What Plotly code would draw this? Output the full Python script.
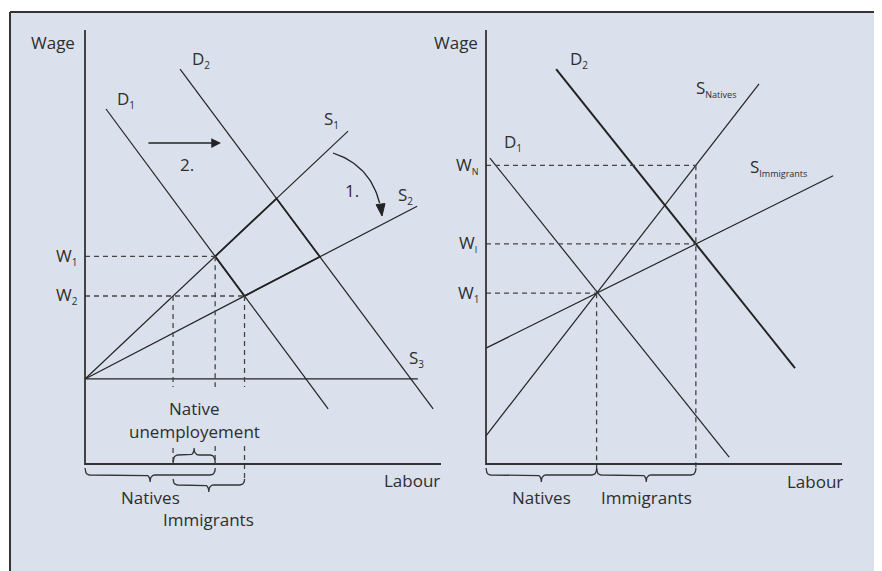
import numpy as np
import plotly.graph_objects as go

# ---------------- data (economic units: labour 0..100, wage 0..100) ----------------
axis_length = [100.0, 100.0]                 # labour axis, wage axis

# Left panel: supply curves share one starting wage
left_supply_start = [0.0, 19.6]
left_s1_end = [73.9, 76.7]
left_s2_end = [93.3, 59.4]
left_s3_end = [93.5, 19.6]
left_d1 = [[5.9, 81.8], [68.3, 12.7]]
left_d2 = [[26.7, 91.0], [97.8, 12.7]]

# Right panel
right_d1 = [[1.1, 70.5], [68.3, 1.6]]
right_d2 = [[19.7, 91.0], [86.8, 22.1]]
right_s_natives = [[0.0, 6.5], [76.7, 87.6]]
right_s_immigrants = [[0.0, 26.7], [97.5, 66.4]]

axis_titles = ["Wage", "Labour"]
left_wage_labels = ["W", "W"]
left_wage_subs = ["1", "2"]
right_wage_labels = ["W", "W", "W"]
right_wage_subs = ["N", "I", "1"]
group_labels = ["Natives", "Immigrants"]
unemployment_label = ["Native", "unemployement"]

# ---------------- geometry helpers ----------------
OFF = 8                          # page body margin of the html page
W, H = 882 - OFF, 571 - OFF
PX_X, PX_Y = 3.56, 4.34          # pixels per unit
ORIG_L = (85 - OFF, 464 - OFF)   # pixel of left origin (figure coords)
ORIG_R = (486 - OFF, 464 - OFF)
SPLIT = 441 - OFF

INK = "#232323"
AXC = "#333333"
DASHC = "#444444"
TXT = "#2e2e2e"
BG = "#dae0ec"
FONT = "Open Sans"
FS = 17


def sub(main, s, size=10):
    return f"{main}<sub><span style='font-size:{size}px'>{s}</span></sub>"


def intersect(a, b):
    (x1, y1), (x2, y2) = a
    (x3, y3), (x4, y4) = b
    m1 = (y2 - y1) / (x2 - x1)
    m2 = (y4 - y3) / (x4 - x3)
    x = (y3 - y1 + m1 * x1 - m2 * x3) / (m1 - m2)
    return x, y1 + m1 * (x - x1)


def y_on(line, x):
    (x1, y1), (x2, y2) = line
    return y1 + (y2 - y1) * (x - x1) / (x2 - x1)


def x_on(line, y):
    (x1, y1), (x2, y2) = line
    return x1 + (x2 - x1) * (y - y1) / (y2 - y1)


fig = go.Figure()


def add_line(xs, ys, panel, width=1.2, color=INK, dash=None):
    fig.add_trace(go.Scatter(
        x=xs, y=ys, mode="lines", xaxis="x" if panel == 0 else "x2",
        yaxis="y" if panel == 0 else "y2",
        line=dict(color=color, width=width, dash=dash),
        hoverinfo="skip", showlegend=False))


def add_dash(xs, ys, panel):
    add_line(xs, ys, panel, width=1.3, color=DASHC, dash="5px,4px")


def brace(x0, x1, y_end, y_mid, y_tip, panel):
    rx = 5 / PX_X
    xc = (x0 + x1) / 2
    def qb(p0, p1, p2, n=8):
        t = np.linspace(0, 1, n)
        return ((1 - t) ** 2 * p0[0] + 2 * (1 - t) * t * p1[0] + t ** 2 * p2[0],
                (1 - t) ** 2 * p0[1] + 2 * (1 - t) * t * p1[1] + t ** 2 * p2[1])
    segs = [
        qb((x0, y_end), (x0, y_mid), (x0 + rx, y_mid)),
        qb((xc - rx, y_mid), (xc, y_mid), (xc, y_tip)),
        qb((xc, y_tip), (xc, y_mid), (xc + rx, y_mid)),
        qb((x1 - rx, y_mid), (x1, y_mid), (x1, y_end)),
    ]
    xs = np.concatenate([s[0] for s in segs])
    ys = np.concatenate([s[1] for s in segs])
    add_line(xs, ys, panel, width=1.3, color=AXC)


annotations = []


def label(x, y, text, panel, size=FS, xanchor="left", yanchor="middle", yshift=0):
    annotations.append(dict(
        x=x, y=y, xref="x" if panel == 0 else "x2", yref="y" if panel == 0 else "y2",
        text=text, showarrow=False, xanchor=xanchor, yanchor=yanchor, yshift=yshift,
        font=dict(family=FONT, size=size, color=TXT)))


def u(py):  # vertical pixel offset -> units (helper for fixed layout spots)
    return py / PX_Y

# ---------------- left panel ----------------
L = 0
s1 = [left_supply_start, left_s1_end]
s2 = [left_supply_start, left_s2_end]
s3 = [left_supply_start, left_s3_end]
for ln in (s1, s2, s3, left_d1, left_d2):
    add_line([ln[0][0], ln[1][0]], [ln[0][1], ln[1][1]], L)

w1 = intersect(left_d1, s1)
w2 = intersect(left_d1, s2)
a = intersect(left_d2, s1)
b = intersect(left_d2, s2)
nat2 = x_on(s1, w2[1])

# bold parallelogram
add_line([w1[0], a[0], b[0], w2[0], w1[0]], [w1[1], a[1], b[1], w2[1], w1[1]], L, width=1.8)

# dashed guides
gap_top, gap_bot = u(464 - 387), u(464 - 446)
add_dash([0, w1[0]], [w1[1], w1[1]], L)
add_dash([0, w2[0]], [w2[1], w2[1]], L)
add_dash([nat2, nat2], [w2[1], gap_top], L)
add_dash([w1[0], w1[0]], [w1[1], gap_top], L)
add_dash([w2[0], w2[0]], [w2[1], gap_top], L)
add_dash([nat2, nat2], [u(464 - 448), 0], L)
add_dash([w1[0], w1[0]], [gap_bot, 0], L)
add_dash([w2[0], w2[0]], [gap_bot, -u(15)], L)

# axes
add_line([0, 0, axis_length[0]], [axis_length[1], 0, 0], L, width=1.8, color=AXC)

# braces
brace(0, w1[0], -u(4), -u(11), -u(18), L)
brace(nat2, w2[0], -u(15), -u(21), -u(28), L)
brace(nat2, w1[0], u(1), u(9), u(16), L)

# arrows
annotations.append(dict(x=38.2, y=73.96, ax=17.4, ay=73.96, xref="x", yref="y",
                        axref="x", ayref="y", text="", showarrow=True, arrowhead=2,
                        arrowsize=1.5, arrowwidth=1.3, arrowcolor=INK))
p0, p1, p2 = np.array([69.66, 71.66]), np.array([81.74, 68.43]), np.array([83.43, 57.14])
t = np.linspace(0, 0.86, 30)[:, None]
curve = (1 - t) ** 2 * p0 + 2 * (1 - t) * t * p1 + t ** 2 * p2
add_line(curve[:, 0], curve[:, 1], L, width=1.3)
# arrowhead (computed in pixel space for correct shape)
tip = np.array([p2[0] * PX_X, -p2[1] * PX_Y])
tan = 2 * (p2 - p1) * np.array([PX_X, -PX_Y])
tan = tan / np.linalg.norm(tan)
nrm = np.array([-tan[1], tan[0]])
base = tip - tan * 12
hx = np.array([tip[0], base[0] + nrm[0] * 4.5, base[0] - nrm[0] * 4.5, tip[0]]) / PX_X
hy = -np.array([tip[1], base[1] + nrm[1] * 4.5, base[1] - nrm[1] * 4.5, tip[1]]) / PX_Y
fig.add_trace(go.Scatter(x=hx, y=hy, mode="lines", fill="toself", fillcolor=INK,
                         line=dict(color=INK, width=1), hoverinfo="skip", showlegend=False))

# labels
label(-9.0, 97.2, axis_titles[0], L, xanchor="center")
label(91.9, -3.9, axis_titles[1], L, xanchor="center")
label(8.4, 83.9, sub("D", "1"), L)
label(29.5, 93.1, sub("D", "2"), L)
label(66.6, 79.3, sub("S", "1"), L)
label(87.4, 61.8, sub("S", "2"), L)
label(90.5, 24.4, sub("S", "3"), L)
label(75.0, 63.1, "1.", L, xanchor="center")
label(28.7, 69.1, "2.", L, xanchor="center")
label(-8.6, w1[1], sub(left_wage_labels[0], left_wage_subs[0]), L)
label(-8.6, w2[1], sub(left_wage_labels[1], left_wage_subs[1]), L)
label((nat2 + w1[0]) / 2, 12.9, unemployment_label[0], L, xanchor="center")
label((nat2 + w1[0]) / 2, 7.4, unemployment_label[1], L, xanchor="center")
label(w1[0] / 2, -7.8, group_labels[0], L, xanchor="center")
label((nat2 + w2[0]) / 2, -12.9, group_labels[1], L, xanchor="center")

# ---------------- right panel ----------------
R = 1
for ln, wd in ((right_d1, 1.2), (right_s_natives, 1.2), (right_s_immigrants, 1.2), (right_d2, 2.0)):
    add_line([ln[0][0], ln[1][0]], [ln[0][1], ln[1][1]], R, width=wd)

r_w1 = intersect(right_s_natives, right_s_immigrants)
x_i = intersect(right_d2, right_s_immigrants)[0]
wn = y_on(right_s_natives, x_i)
wi = y_on(right_s_immigrants, x_i)

add_dash([0, x_i], [wn, wn], R)
add_dash([0, x_i], [wi, wi], R)
add_dash([0, r_w1[0]], [r_w1[1], r_w1[1]], R)
add_dash([x_i, x_i], [wn, -u(4)], R)
add_dash([r_w1[0], r_w1[0]], [r_w1[1], -u(4)], R)

add_line([0, 0, axis_length[0]], [axis_length[1], 0, 0], R, width=1.8, color=AXC)

brace(0, r_w1[0], -u(4), -u(11), -u(18), R)
brace(r_w1[0], x_i, -u(4), -u(11), -u(18), R)

label(-8.4, 97.2, axis_titles[0], R, xanchor="center")
label(92.4, -4.1, axis_titles[1], R, xanchor="center")
label(4.5, 74.0, sub("D", "1"), R)
label(23.0, 93.1, sub("D", "2"), R)
label(58.4, 86.6, sub("S", "Natives", 9), R)
label(73.6, 68.4, sub("S", "Immigrants", 9), R)
label(-8.9, wn, sub(right_wage_labels[0], right_wage_subs[0], 9), R)
label(-8.1, wi, sub(right_wage_labels[1], right_wage_subs[1], 9), R)
label(-8.3, r_w1[1], sub(right_wage_labels[2], right_wage_subs[2]), R)
label(r_w1[0] / 2, -7.8, group_labels[0], R, xanchor="center")
label((r_w1[0] + x_i) / 2, -7.8, group_labels[1], R, xanchor="center")

# ---------------- layout ----------------
yr = [-(H - ORIG_L[1]) / PX_Y, ORIG_L[1] / PX_Y]
BX, BY = 10 - OFF, 12 - OFF      # border position (figure pixels)
fig.update_layout(
    width=W, height=H, margin=dict(l=0, r=0, t=0, b=0),
    paper_bgcolor="white", plot_bgcolor="rgba(0,0,0,0)",
    xaxis=dict(domain=[0, SPLIT / W], range=[-ORIG_L[0] / PX_X, (SPLIT - ORIG_L[0]) / PX_X],
               visible=False, fixedrange=True),
    yaxis=dict(domain=[0, 1], range=yr, visible=False, fixedrange=True),
    xaxis2=dict(domain=[SPLIT / W, 1], range=[(SPLIT - ORIG_R[0]) / PX_X, (W - ORIG_R[0]) / PX_X],
                visible=False, fixedrange=True, anchor="y2"),
    yaxis2=dict(domain=[0, 1], range=yr, visible=False, fixedrange=True, anchor="x2"),
    annotations=annotations,
    shapes=[
        dict(type="rect", xref="paper", yref="paper", x0=BX / W, x1=1, y0=0, y1=(H - BY) / H,
             fillcolor=BG, line=dict(width=0), layer="below"),
        dict(type="line", xref="paper", yref="paper", x0=BX / W, x1=1, y0=(H - BY) / H,
             y1=(H - BY) / H, line=dict(color="#333333", width=2), layer="below"),
        dict(type="line", xref="paper", yref="paper", x0=BX / W, x1=BX / W, y0=0,
             y1=(H - BY) / H, line=dict(color="#333333", width=2), layer="below"),
    ],
)

fig.write_html("out.html")
